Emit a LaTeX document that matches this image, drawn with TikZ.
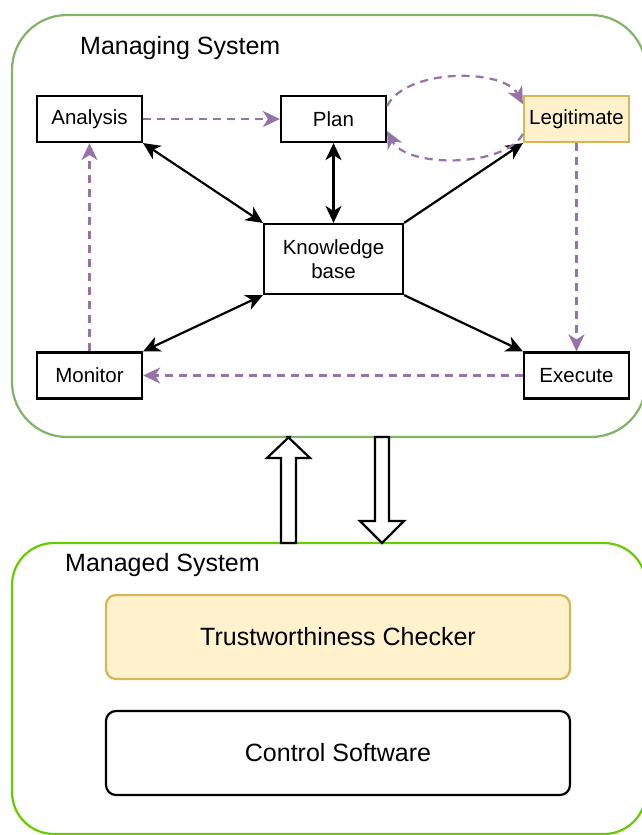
\documentclass[tikz,border=0pt]{standalone}
\usepackage{fontspec}
\setmainfont{Liberation Sans}
\usetikzlibrary{arrows.meta,calc}

\definecolor{mgreen}{HTML}{82B366}
\definecolor{bgreen}{HTML}{66CC00}
\definecolor{lpurple}{HTML}{9673A6}
\definecolor{yfill}{HTML}{FFF2CC}
\definecolor{ystroke}{HTML}{D6B656}

\begin{document}
\begin{tikzpicture}[x=1pt,y=-1pt,
  stepbox/.style={draw=black, line width=2.2pt, fill=white, inner sep=0pt,
    minimum width=105pt, minimum height=46pt,
    font=\fontsize{20.5}{24.6}\selectfont, align=center},
  legitbox/.style={stepbox, draw=ystroke, fill=yfill},
  group/.style={line width=2.2pt, rounded corners=#1, inner sep=0pt},
  widebox/.style={line width=2.2pt, rounded corners=10pt, inner sep=0pt,
    minimum width=464pt, minimum height=84pt, font=\fontsize{25}{30}\selectfont},
  title/.style={anchor=base west, inner sep=0pt, font=\fontsize{25}{30}\selectfont},
  kbflow/.style={draw=black, line width=2.2pt},
  twoway/.style={kbflow, {Stealth[length=17pt,width=16pt,inset=5pt]}-{Stealth[length=17pt,width=16pt,inset=5pt]}},
  oneway/.style={kbflow, -{Stealth[length=17pt,width=16pt,inset=5pt]}},
  ctrlflow/.style={draw=lpurple, line width=2.2pt, dash pattern=on 8pt off 6pt,
    -{Stealth[length=17pt,width=16pt,inset=5pt]}},
  blockarrow/.style={draw=black, line width=2.2pt, fill=white, line join=miter},
]
\clip (0,0) rectangle (642,835);
\fill[white] (0,0) rectangle (642,835);

% containers
\draw[group=55pt, draw=mgreen] (12,15) rectangle (646,437);
\draw[group=42pt, draw=bgreen] (12,543) rectangle (646,834);
\coordinate (topbottom) at (329,437);
\coordinate (bottomtop) at (329,543);

\node[title] (mgtitle) at (80,54) {Managing System};
\node[title] (mdtitle) at (65,571) {Managed System};

% MAPE-K loop
\node[stepbox] (ana) at (89.5,119) {Analysis};
\node[stepbox] (plan) at (333.5,119) {Plan};
\node[legitbox] (legit) at (576.5,119) {Legitimate};
\node[stepbox, minimum width=139pt, minimum height=70pt] (kb) at (333.5,259) {Knowledge\\base};
\node[stepbox] (mon) at (89.5,375.5) {Monitor};
\node[stepbox] (exe) at (576.5,375.5) {Execute};

% managed system components
\node[widebox, draw=ystroke, fill=yfill] (tc) at (338,637) {Trustworthiness Checker};
\node[widebox, draw=black, fill=white] (cs) at (338,753) {Control Software};

% knowledge base links
\draw[twoway] (ana.south east) -- (kb.north west);
\draw[twoway] (plan.south) -- (kb.north);
\draw[twoway] (mon.north east) -- (kb.south west);
\draw[oneway] (kb.north east) -- (legit.south west);
\draw[oneway] (kb.south east) -- (exe.north west);

% control flow
\draw[ctrlflow] (ana.east) -- (plan.west);
\draw[ctrlflow] (mon.north) -- (ana.south);
\draw[ctrlflow] (legit.south) -- (exe.north);
\draw[ctrlflow] (exe.west) -- (mon.east);
\draw[ctrlflow] ([yshift=13pt]plan.east) .. controls +(19,-38) and +(-19,-36) .. ([yshift=15pt]legit.west);
\draw[ctrlflow] ([yshift=-15pt]legit.west) .. controls +(-19,34) and +(19,37) .. ([yshift=-12pt]plan.east);

% hollow block arrows between the two systems
\draw[blockarrow] ($(bottomtop)+(-48,0)$) -- ++(0,-85) -- ++(-14,0) -- ++(22,-21)
  -- ($(topbottom)+(-41,0)$) -- ++(22,21) -- ++(-14,0) -- ++(0,85) -- cycle;
\draw[blockarrow] ($(topbottom)+(46,0)$) -- ++(0,84) -- ++(-15,0) -- ($(bottomtop)+(53,0)$)
  -- ++(22,-22) -- ++(-15,0) -- ++(0,-84) -- cycle;
\end{tikzpicture}
\end{document}
